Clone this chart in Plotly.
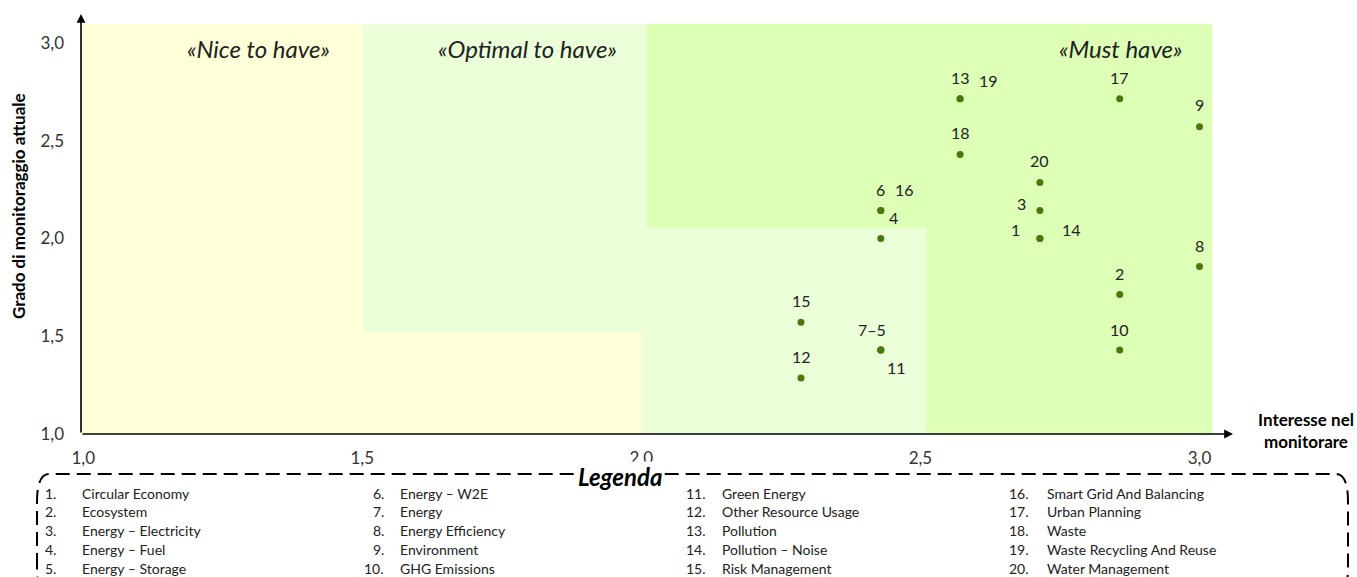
import plotly.graph_objects as go

# ---------------- data ----------------
topic_ids = list(range(1, 21))
topic_names = [
    "Circular Economy", "Ecosystem", "Energy – Electricity", "Energy – Fuel",
    "Energy – Storage", "Energy – W2E", "Energy", "Energy Efficiency",
    "Environment", "GHG Emissions", "Green Energy", "Other Resource Usage",
    "Pollution", "Pollution – Noise", "Risk Management",
    "Smart Grid And Balancing", "Urban Planning", "Waste",
    "Waste Recycling And Reuse", "Water Management",
]
interest = [2.714, 2.857, 2.714, 2.429, 2.429, 2.429, 2.429, 3.000, 3.000, 2.857,
            2.429, 2.286, 2.571, 2.714, 2.286, 2.429, 2.857, 2.571, 2.571, 2.714]
monitoring = [2.000, 1.714, 2.143, 2.000, 1.429, 2.143, 1.429, 1.857, 2.571, 1.429,
              1.429, 1.286, 2.714, 2.000, 1.571, 2.143, 2.714, 2.429, 2.714, 2.286]

# point labels: (text, topic id the label belongs to)
point_labels = [("1", 1), ("2", 2), ("3", 3), ("4", 4), ("7–5", 5), ("6", 6),
                ("8", 8), ("9", 9), ("10", 10), ("11", 11), ("12", 12), ("13", 13),
                ("14", 14), ("15", 15), ("16", 16), ("17", 17), ("18", 18),
                ("19", 19), ("20", 20)]

tick_vals = [1.0, 1.5, 2.0, 2.5, 3.0]
tick_text = ["1,0", "1,5", "2,0", "2,5", "3,0"]

zone_names = ["«Nice to have»", "«Optimal to have»", "«Must have»"]

# ---------------- style / layout ----------------
W, H = 1357, 577
ML, MR, MT, MB = 81, 124, 14, 143
PW, PH = W - ML - MR, H - MT - MB
XR = [0.996, 3.06]
YR = [1.0, 3.148]
FONT = "Lato"
DOT = "#4a780c"
TXT = "#222222"

def px(xp):
    return (xp - ML) / PW

def py(yp):
    return (MT + PH - yp) / PH

# label pixel offsets (xshift, yshift)
label_off = {
    "1": (-24, 9), "2": (0, 21), "3": (-18, 7), "4": (13, 21), "7–5": (-9, 21),
    "6": (0, 21), "8": (0, 21), "9": (0, 22), "10": (0, 21), "11": (16, -17),
    "12": (0, 22), "13": (0, 21), "14": (32, 9), "15": (0, 22), "16": (24, 21),
    "17": (0, 21), "18": (0, 22), "19": (28, 18), "20": (0, 22),
}

fig = go.Figure()

fig.add_trace(go.Scatter(
    x=interest, y=monitoring, mode="markers",
    marker=dict(color=DOT, size=7, line=dict(width=0)),
    text=[f"{i}. {n}" for i, n in zip(topic_ids, topic_names)],
    hoverinfo="text", showlegend=False, cliponaxis=False,
))

# background zones (data coords)
YELLOW = "#ffffd8"
LGREEN = "#ebffd9"
GREEN = "#ddffb6"
ytop = 3.097
zones = [
    (0.996, 1.5, 1.0, ytop, YELLOW),
    (1.5, 2.0, 1.0, 1.522, YELLOW),
    (1.5, 2.01, 1.522, ytop, LGREEN),
    (2.0, 2.51, 1.0, 2.054, LGREEN),
    (2.01, 3.023, 2.054, ytop, GREEN),
    (2.51, 3.023, 1.0, 2.054, GREEN),
]
for x0, x1, y0, y1, c in zones:
    fig.add_shape(type="rect", xref="x", yref="y", x0=x0, x1=x1, y0=y0, y1=y1,
                  fillcolor=c, line=dict(width=0), layer="below")

annotations = []

# axes arrows
annotations.append(dict(xref="x", yref="y", axref="x", ayref="y",
                        x=XR[1], y=1.0, ax=XR[0], ay=1.0, text="", showarrow=True,
                        arrowhead=2, arrowsize=1.1, arrowwidth=1.6, arrowcolor="#000"))
annotations.append(dict(xref="x", yref="y", axref="x", ayref="y",
                        x=XR[0], y=YR[1], ax=XR[0], ay=1.0, text="", showarrow=True,
                        arrowhead=2, arrowsize=1.1, arrowwidth=1.6, arrowcolor="#000"))

# point labels
for txt, tid in point_labels:
    dx, dy = label_off[txt]
    annotations.append(dict(x=interest[tid - 1], y=monitoring[tid - 1], xref="x", yref="y",
                            text=txt, showarrow=False, xshift=dx, yshift=dy,
                            xanchor="center", yanchor="middle",
                            font=dict(family=FONT, size=16, color=TXT)))

# zone titles
zone_pos = [(258, 48), (527, 48), (1121, 48)]
for name, (xp, yp) in zip(zone_names, zone_pos):
    annotations.append(dict(x=px(xp), y=py(yp), xref="paper", yref="paper",
                            xanchor="center", yanchor="middle",
                            text=f"<i>{name}</i>", showarrow=False,
                            font=dict(family=FONT, size=24, color=TXT)))

# axis titles
annotations.append(dict(x=px(18), y=py(206), xref="paper", yref="paper",
                        xanchor="center", yanchor="middle",
                        text="<b>Grado di monitoraggio attuale</b>", textangle=-90,
                        showarrow=False, font=dict(family=FONT, size=17, color="#000")))
annotations.append(dict(x=px(1306), y=py(430), xref="paper", yref="paper",
                        xanchor="center", yanchor="middle",
                        text="<b>Interesse nel<br>monitorare</b>", showarrow=False,
                        font=dict(family=FONT, size=17, color="#000")))

# legend box
L0, R0, T0, B0 = 37, 1348, 474, 595
rx, ry = 12, 28
path = (f"M {px(L0)},{py(B0 - ry)} L {px(L0)},{py(T0 + ry)} "
        f"Q {px(L0)},{py(T0)} {px(L0 + rx)},{py(T0)} "
        f"L {px(R0 - rx)},{py(T0)} Q {px(R0)},{py(T0)} {px(R0)},{py(T0 + ry)} "
        f"L {px(R0)},{py(B0 - ry)} Q {px(R0)},{py(B0)} {px(R0 - rx)},{py(B0)} "
        f"L {px(L0 + rx)},{py(B0)} Q {px(L0)},{py(B0)} {px(L0)},{py(B0 - ry)}")
fig.add_shape(type="path", xref="paper", yref="paper", path=path,
              line=dict(color="#000", width=2, dash="14px,7px"), layer="above")

annotations.append(dict(x=px(620), y=py(476), xref="paper", yref="paper",
                        xanchor="center", yanchor="middle",
                        text="<b><i>Legenda</i></b>", showarrow=False, bgcolor="#ffffff",
                        borderpad=0, font=dict(family=FONT, size=24, color="#000")))

col_num_right = [58, 386, 708, 1031]
col_text_left = [80, 398, 720, 1045]
row_y = [493, 511, 530, 549, 568]
for k, (tid, name) in enumerate(zip(topic_ids, topic_names)):
    c, r = divmod(k, 5)
    annotations.append(dict(x=px(col_num_right[c]), y=py(row_y[r]), xref="paper", yref="paper",
                            text=f"{tid}.", showarrow=False, xanchor="right", yanchor="middle",
                            font=dict(family=FONT, size=14, color=TXT)))
    annotations.append(dict(x=px(col_text_left[c]), y=py(row_y[r]), xref="paper", yref="paper",
                            text=name, showarrow=False, xanchor="left", yanchor="middle",
                            font=dict(family=FONT, size=14, color=TXT)))

fig.update_layout(
    width=W, height=H, autosize=False,
    margin=dict(l=ML, r=MR, t=MT, b=MB, pad=0),
    paper_bgcolor="white", plot_bgcolor="white",
    separators=",.",
    annotations=annotations,
    showlegend=False,
    font=dict(family=FONT),
)
fig.update_xaxes(range=XR, showgrid=False, zeroline=False, showline=False,
                 tickmode="array", tickvals=tick_vals, ticktext=tick_text, ticks="",
                 ticklabelstandoff=12, tickfont=dict(family=FONT, size=17, color="#333"))
fig.update_yaxes(range=YR, showgrid=False, zeroline=False, showline=False,
                 tickmode="array", tickvals=tick_vals, ticktext=tick_text, ticks="",
                 ticklabelstandoff=16, tickfont=dict(family=FONT, size=17, color="#333"))

fig.write_html("out.html", config={"displayModeBar": False},
               post_script="document.body.style.margin='0px';")
